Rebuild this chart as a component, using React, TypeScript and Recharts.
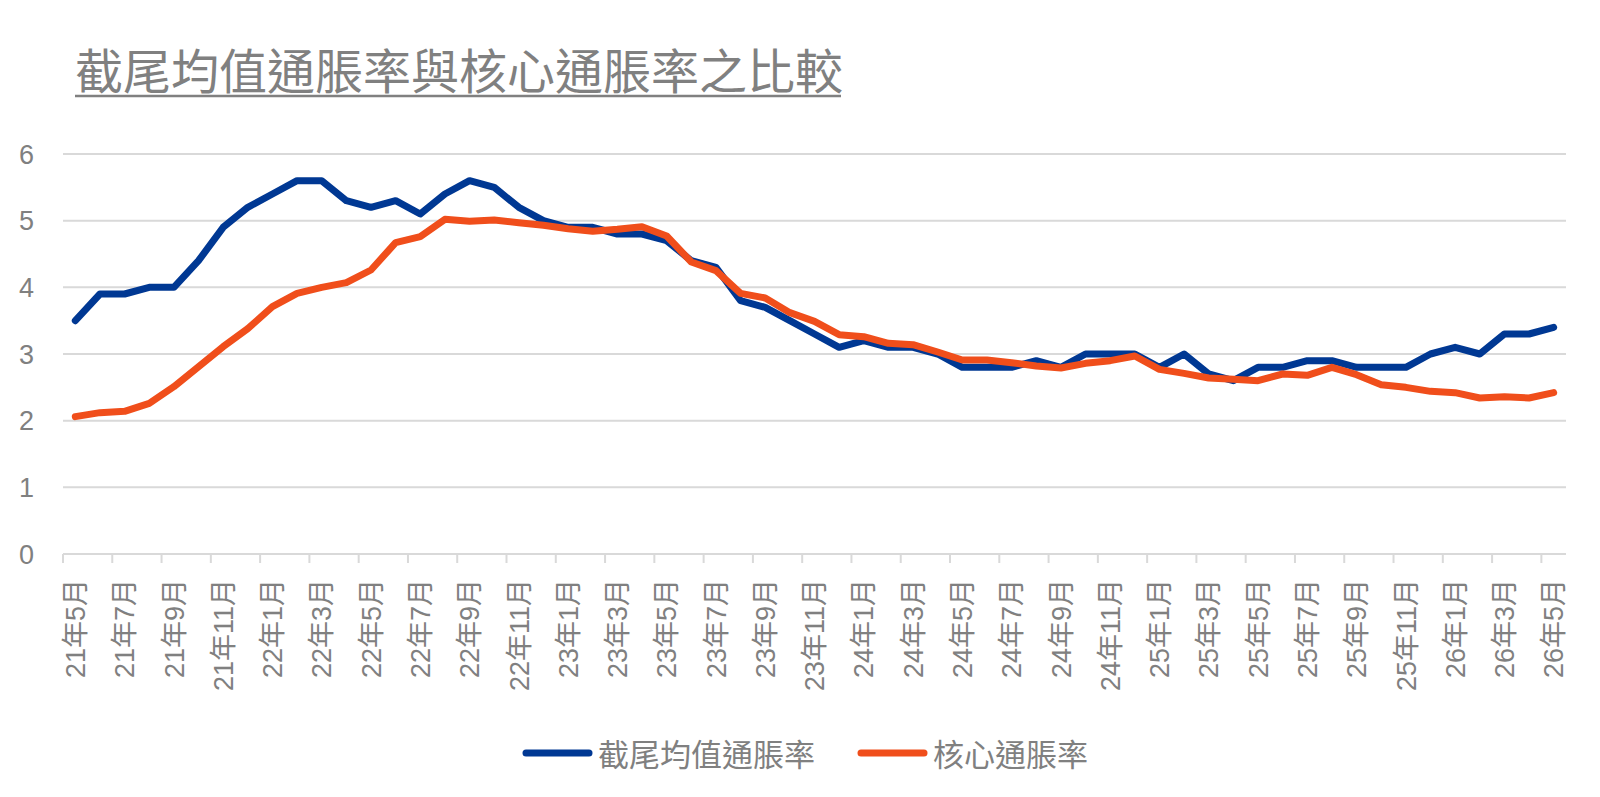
import React from "react";
import { LineChart, Line, XAxis, YAxis, CartesianGrid, Legend } from "recharts";

const months: string[] = [
  "21年5月", "21年6月", "21年7月", "21年8月", "21年9月", "21年10月", "21年11月", "21年12月",
  "22年1月", "22年2月", "22年3月", "22年4月", "22年5月", "22年6月", "22年7月", "22年8月",
  "22年9月", "22年10月", "22年11月", "22年12月",
  "23年1月", "23年2月", "23年3月", "23年4月", "23年5月", "23年6月", "23年7月", "23年8月",
  "23年9月", "23年10月", "23年11月", "23年12月",
  "24年1月", "24年2月", "24年3月", "24年4月", "24年5月", "24年6月", "24年7月", "24年8月",
  "24年9月", "24年10月", "24年11月", "24年12月",
  "25年1月", "25年2月", "25年3月", "25年4月", "25年5月", "25年6月", "25年7月", "25年8月",
  "25年9月", "25年10月", "25年11月", "25年12月",
  "26年1月", "26年2月", "26年3月", "26年4月", "26年5月",
];

const trimmedMean: number[] = [
  3.5, 3.9, 3.9, 4.0, 4.0, 4.4, 4.9, 5.2,
  5.4, 5.6, 5.6, 5.3, 5.2, 5.3, 5.1, 5.4,
  5.6, 5.5, 5.2, 5.0,
  4.9, 4.9, 4.8, 4.8, 4.7, 4.4, 4.3, 3.8,
  3.7, 3.5, 3.3, 3.1,
  3.2, 3.1, 3.1, 3.0, 2.8, 2.8, 2.8, 2.9,
  2.8, 3.0, 3.0, 3.0,
  2.8, 3.0, 2.7, 2.6, 2.8, 2.8, 2.9, 2.9,
  2.8, 2.8, 2.8, 3.0,
  3.1, 3.0, 3.3, 3.3, 3.4,
];

const coreInflation: number[] = [
  2.06, 2.12, 2.14, 2.26, 2.51, 2.81, 3.11, 3.38,
  3.71, 3.91, 4.0, 4.07, 4.26, 4.67, 4.76, 5.02,
  4.99, 5.01, 4.97, 4.93,
  4.88, 4.84, 4.87, 4.91, 4.77, 4.38, 4.25, 3.91,
  3.84, 3.62, 3.49, 3.29,
  3.26, 3.16, 3.14, 3.03, 2.91, 2.91, 2.87, 2.82,
  2.79, 2.86, 2.9, 2.97,
  2.77, 2.71, 2.64, 2.62, 2.6, 2.7, 2.68, 2.8,
  2.69, 2.54, 2.5, 2.44,
  2.42, 2.34, 2.36, 2.34, 2.42,
];

const yTicks: number[] = [0, 1, 2, 3, 4, 5, 6];

const seriesNames = { trimmed: "截尾均值通脹率", core: "核心通脹率" };
const titleText = "截尾均值通脹率與核心通脹率之比較";

const BLUE = "#003893";
const ORANGE = "#F04E1B";
const GREY = "#808080";
const GRID = "#d9d9d9";
const NUM_FONT = "'Liberation Sans', 'Noto Sans CJK TC', sans-serif";
const CJK_FONT = "'Noto Sans CJK TC', sans-serif";

const data = months.map((m, i) => ({
  month: m,
  trimmed: trimmedMean[i],
  core: coreInflation[i],
}));

const HALF_STEP = 12.32;

const XTick = (props: any) => {
  const { x, y, payload } = props;
  return (
    <g>
      <line x1={x - HALF_STEP} x2={x - HALF_STEP} y1={y} y2={y + 9} stroke={GRID} strokeWidth={2} />
      <text
        x={x}
        y={y + 25}
        transform={`rotate(-90, ${x}, ${y + 25})`}
        textAnchor="end"
        dy="0.36em"
        fill={GREY}
        fontSize={27}
        fontFamily={NUM_FONT}
      >
        {payload.value}
      </text>
    </g>
  );
};

const LegendContent = () => {
  const items = [
    { name: seriesNames.trimmed, color: BLUE },
    { name: seriesNames.core, color: ORANGE },
  ];
  return (
    <div style={{ display: "flex", justifyContent: "center", alignItems: "center", height: 40, paddingLeft: 10 }}>
      {items.map((it, i) => (
        <div key={it.name} style={{ display: "flex", alignItems: "center", marginLeft: i === 0 ? 0 : 42 }}>
          <svg width={71} height={12} style={{ display: "block" }}>
            <line x1={4} x2={67} y1={6} y2={6} stroke={it.color} strokeWidth={7} strokeLinecap="round" />
          </svg>
          <span
            style={{
              marginLeft: 5,
              fontSize: 31,
              lineHeight: "40px",
              color: GREY,
              fontFamily: CJK_FONT,
            }}
          >
            {it.name}
          </span>
        </div>
      ))}
    </div>
  );
};

export default function App() {
  return (
    <div style={{ position: "relative", width: 1584, height: 781, background: "#ffffff" }}>
      <svg
        width={1584}
        height={120}
        style={{ position: "absolute", left: 0, top: 0, zIndex: 2, pointerEvents: "none" }}
      >
        <text x={67} y={81} fontSize={48} fill={GREY} fontFamily={CJK_FONT}>
          {titleText}
        </text>
        <line x1={67} x2={833} y1={88} y2={88} stroke={GREY} strokeWidth={2.5} />
      </svg>
      <LineChart
        width={1584}
        height={781}
        data={data}
        margin={{ top: 146, right: 26, bottom: 135, left: 5 }}
      >
        <CartesianGrid horizontal vertical={false} stroke={GRID} strokeWidth={2} />
        <XAxis
          dataKey="month"
          type="category"
          interval={1}
          padding={{ left: HALF_STEP, right: HALF_STEP }}
          height={100}
          tickSize={0}
          tickMargin={0}
          tickLine={false}
          axisLine={{ stroke: GRID, strokeWidth: 2 }}
          tick={<XTick />}
        />
        <YAxis
          domain={[0, 6]}
          ticks={yTicks}
          width={50}
          axisLine={false}
          tickLine={false}
          tickSize={0}
          tickMargin={29}
          tick={{ fill: GREY, fontSize: 27, fontFamily: NUM_FONT }}
        />
        <Legend
          layout="horizontal"
          verticalAlign="middle"
          align="center"
          content={<LegendContent />}
          wrapperStyle={{ top: 725, left: 0, width: 1584 }}
        />
        <Line
          type="linear"
          dataKey="trimmed"
          name={seriesNames.trimmed}
          stroke={BLUE}
          strokeWidth={7}
          dot={false}
          activeDot={false}
          strokeLinejoin="round"
          strokeLinecap="round"
          isAnimationActive={false}
        />
        <Line
          type="linear"
          dataKey="core"
          name={seriesNames.core}
          stroke={ORANGE}
          strokeWidth={7}
          dot={false}
          activeDot={false}
          strokeLinejoin="round"
          strokeLinecap="round"
          isAnimationActive={false}
        />
      </LineChart>
    </div>
  );
}
